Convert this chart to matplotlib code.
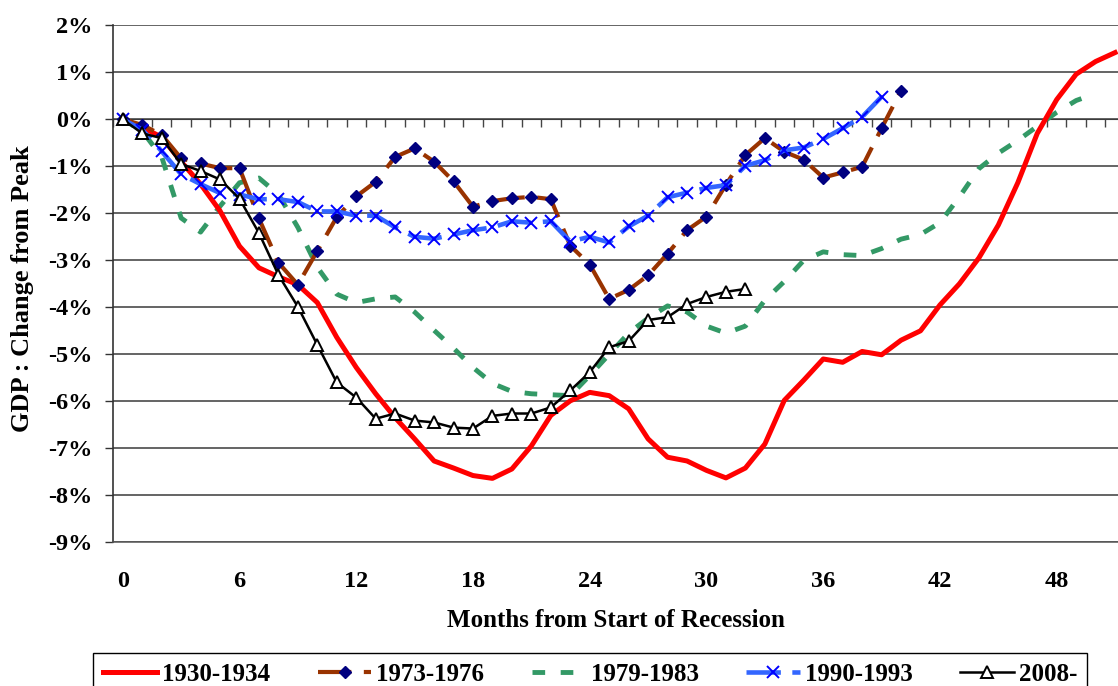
import numpy as np
import matplotlib
matplotlib.use("Agg")
import matplotlib.pyplot as plt
from matplotlib.ticker import FuncFormatter

# GDP change from peak (%), by month since start of recession
red_1930 = [0, -0.17, -0.38, -0.9, -1.38, -1.95, -2.7, -3.16, -3.35, -3.52,
            -3.9, -4.64, -5.28, -5.84, -6.35, -6.8, -7.27, -7.42, -7.58, -7.64,
            -7.44, -6.95, -6.3, -5.99, -5.81, -5.88, -6.16, -6.8, -7.19, -7.27,
            -7.47, -7.63, -7.42, -6.91, -5.98, -5.55, -5.1, -5.17, -4.94, -5.01,
            -4.7, -4.5, -3.95, -3.5, -2.95, -2.25, -1.35, -0.3, 0.42, 0.96,
            1.23, 1.42]
brown_1973 = [0, -0.12, -0.33, -0.83, -0.94, -1.04, -1.04, -2.11, -3.05, -3.52,
              -2.8, -2.08, -1.64, -1.33, -0.8, -0.62, -0.9, -1.32, -1.86, -1.74,
              -1.68, -1.65, -1.7, -2.69, -3.09, -3.82, -3.63, -3.32, -2.86, -2.36,
              -2.07, -1.39, -0.76, -0.4, -0.69, -0.86, -1.24, -1.13, -1.01, -0.19,
              0.61]
green_1979 = [0, -0.25, -0.8, -2.1, -2.4, -1.85, -1.35, -1.25, -1.6, -2.3,
              -3.15, -3.72, -3.9, -3.82, -3.78, -4.1, -4.49, -4.87, -5.28, -5.62,
              -5.79, -5.84, -5.86, -5.88, -5.45, -5.0, -4.55, -4.23, -3.97, -4.1,
              -4.4, -4.55, -4.4, -3.85, -3.45, -3.0, -2.82, -2.88, -2.9, -2.75,
              -2.55, -2.45, -2.2, -1.65, -1.05, -0.72, -0.45, -0.15, 0.15, 0.4,
              0.55]
blue_1990 = [0, -0.22, -0.68, -1.17, -1.38, -1.57, -1.6, -1.7, -1.7, -1.76,
             -1.96, -1.96, -2.05, -2.05, -2.3, -2.5, -2.54, -2.45, -2.36, -2.3,
             -2.17, -2.2, -2.17, -2.6, -2.5, -2.62, -2.28, -2.05, -1.66, -1.56,
             -1.46, -1.4, -0.99, -0.87, -0.66, -0.6, -0.42, -0.19, 0.05, 0.48]
black_2008 = [0, -0.3, -0.4, -0.95, -1.1, -1.28, -1.69, -2.42, -3.31, -3.99,
              -4.8, -5.6, -5.92, -6.37, -6.26, -6.41, -6.45, -6.56, -6.58, -6.31,
              -6.26, -6.26, -6.13, -5.77, -5.38, -4.85, -4.72, -4.27, -4.21, -3.93,
              -3.78, -3.67, -3.61]

labels = ["1930-1934", "1973-1976", "1979-1983", "1990-1993", "2008-"]
month_ticks = list(range(0, 49, 6))
pct_ticks = list(range(-9, 3))

serif = ["Liberation Serif", "DejaVu Serif"]
plt.rcParams["font.family"] = serif
plt.rcParams["font.weight"] = "bold"

fig = plt.figure(figsize=(11.18, 6.86), dpi=100)
ax = fig.add_axes([0.1011, 0.2095, 0.8989, 0.7536])

l1, = ax.plot(range(len(red_1930)), red_1930, color="#FF0000", lw=3.6,
              zorder=3, solid_joinstyle="round")
l2, = ax.plot(range(len(brown_1973)), brown_1973, color="#993300", lw=3,
              dashes=(8, 3), marker="D", ms=6.5, mfc="#000080", mec="#000080",
              zorder=4)
l3, = ax.plot(range(len(green_1979)), green_1979, color="#339966", lw=3.5,
              dashes=(2.6, 3.2), zorder=2)
l4, = ax.plot(range(len(blue_1990)), blue_1990, color="#3366FF", lw=3.3,
              dashes=(7.5, 2.5), marker="x", ms=8.5, mew=1.4, mec="#0000FF",
              zorder=5)
l5, = ax.plot(range(len(black_2008)), black_2008, color="black", lw=1.8,
              marker="^", ms=8.8, mfc="white", mec="black", mew=1.4, zorder=6)

ax.set_xlim(-0.5, 51.15)
ax.set_ylim(-9, 2)
ax.set_yticks(pct_ticks)
ax.yaxis.set_major_formatter(FuncFormatter(lambda v, p: f"{int(v)}%"))
ax.set_xticks(month_ticks)
ax.tick_params(axis="x", length=0, pad=21, labelsize=17.5)
ax.tick_params(axis="y", length=6, width=1, direction="out", pad=9,
               labelsize=17.5, color="#333333")

ax.set_axisbelow(True)
ax.grid(axis="y", color="#3a3a3a", lw=1.1)
for s in ["top", "right"]:
    ax.spines[s].set_visible(False)
ax.spines["left"].set_color("#333333")
ax.spines["left"].set_linewidth(1.2)
ax.spines["bottom"].set_color("#555555")
ax.spines["bottom"].set_linewidth(1.1)

# category tick marks along the 0% line
sec = ax.secondary_xaxis(9 / 11)
sec.set_xticks(np.arange(-0.5, 51.5, 1))
sec.tick_params(axis="x", direction="in", length=6, width=1, color="#444444",
                labeltop=False, labelbottom=False)
sec.spines["top"].set_color("#444444")
sec.spines["bottom"].set_color("#444444")

ax.set_xlabel("Months from Start of Recession", fontsize=18, fontweight="bold",
              labelpad=12)
ax.set_ylabel("GDP : Change from Peak", fontsize=19, fontweight="bold")
ax.yaxis.set_label_coords(-0.079, 0.49)

leg = fig.legend([l1, l2, l3, l4, l5], labels, loc="upper center",
                 bbox_to_anchor=(0.528, 1 - 653 / 686), ncol=5,
                 prop={"family": serif, "weight": "bold", "size": 18},
                 frameon=True, fancybox=False, edgecolor="black", framealpha=1,
                 handlelength=2.15, handletextpad=0.2, columnspacing=1.9,
                 borderpad=0.4, borderaxespad=0)
leg.get_frame().set_linewidth(1.0)

fig.savefig("out.png", dpi=100)
